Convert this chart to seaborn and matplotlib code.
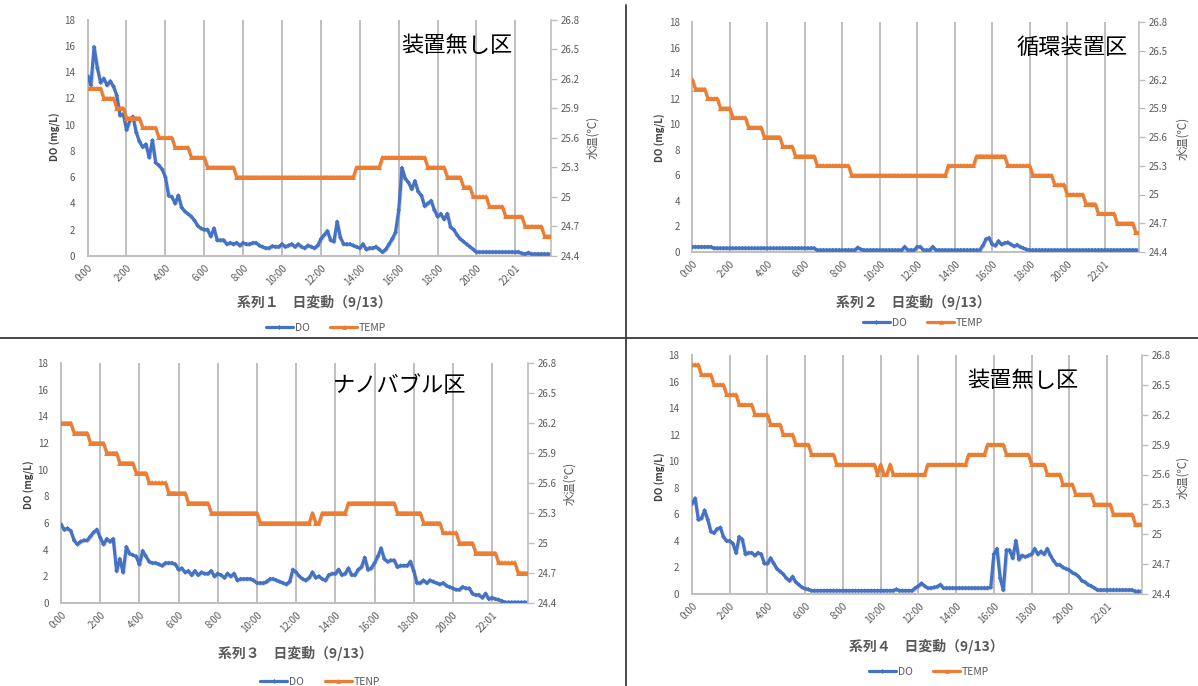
import numpy as np
import pandas as pd
import matplotlib
matplotlib.use("Agg")
import matplotlib.pyplot as plt
import matplotlib.patheffects as pe
from matplotlib.lines import Line2D
import seaborn as sns

# ---------------------------------------------------------------------------
# Data: 10-minute samples over one day (9/13), 144 samples per series
# ---------------------------------------------------------------------------
time_labels = ["0:00", "2:00", "4:00", "6:00", "8:00", "10:00",
               "12:00", "14:00", "16:00", "18:00", "20:00", "22:01"]

# Dissolved oxygen (mg/L)
do1 = [13.7, 13.0, 15.9, 14.3, 13.2, 13.5, 13.0, 13.3, 12.9, 12.2,
       10.7, 10.8, 9.6, 10.3, 10.6, 9.4, 8.7, 8.3, 8.5, 7.5,
       8.8, 7.1, 6.9, 6.6, 6.0, 4.6, 4.5, 4.0, 4.6, 3.7,
       3.4, 3.2, 3.0, 2.7, 2.3, 2.1, 2.0, 2.0, 1.5, 2.1,
       1.2, 1.2, 1.2, 0.9, 1.0, 0.9, 1.0, 0.8, 1.0, 0.9,
       0.9, 1.0, 1.0, 0.8, 0.7, 0.6, 0.6, 0.75, 0.7, 0.7,
       0.9, 0.7, 0.8, 0.9, 0.7, 0.9, 0.7, 0.6, 0.8, 0.7,
       0.6, 0.8, 1.3, 1.6, 1.9, 1.2, 1.1, 2.6, 1.4, 0.9,
       0.9, 0.9, 0.8, 0.7, 0.6, 0.9, 0.5, 0.6, 0.6, 0.7,
       0.5, 0.3, 0.5, 0.9, 1.3, 1.8, 3.5, 6.7, 5.9, 5.6,
       5.1, 5.7, 4.9, 4.6, 3.8, 4.0, 4.2, 3.5, 3.0, 3.2,
       2.8, 3.2, 2.2, 2.0, 1.6, 1.3, 1.1, 0.9, 0.7, 0.5,
       0.3, 0.3, 0.3, 0.3, 0.3, 0.3, 0.3, 0.3, 0.3, 0.3,
       0.3, 0.3, 0.3, 0.3, 0.2, 0.15, 0.25, 0.15, 0.15, 0.15,
       0.15, 0.15, 0.15, 0.15]

do2 = [0.4, 0.4, 0.4, 0.4, 0.4, 0.4, 0.4, 0.3, 0.3, 0.3,
       0.3, 0.3, 0.3, 0.3, 0.3, 0.3, 0.3, 0.3, 0.3, 0.3,
       0.3, 0.3, 0.3, 0.3, 0.3, 0.3, 0.3, 0.3, 0.3, 0.3,
       0.3, 0.3, 0.3, 0.3, 0.3, 0.3, 0.3, 0.3, 0.3, 0.3,
       0.15, 0.15, 0.15, 0.15, 0.15, 0.15, 0.15, 0.15, 0.15, 0.15,
       0.15, 0.15, 0.15, 0.35, 0.2, 0.15, 0.15, 0.15, 0.15, 0.15,
       0.15, 0.15, 0.15, 0.15, 0.15, 0.15, 0.15, 0.15, 0.4, 0.15,
       0.15, 0.15, 0.4, 0.4, 0.15, 0.15, 0.15, 0.4, 0.15, 0.15,
       0.15, 0.15, 0.15, 0.15, 0.15, 0.15, 0.15, 0.15, 0.15, 0.15,
       0.15, 0.15, 0.15, 0.5, 1.0, 1.1, 0.6, 0.5, 0.85, 0.6,
       0.7, 0.75, 0.6, 0.45, 0.55, 0.4, 0.3, 0.2, 0.15, 0.15,
       0.15, 0.15, 0.15, 0.15, 0.15, 0.15, 0.15, 0.15, 0.15, 0.15,
       0.15, 0.15, 0.15, 0.15, 0.15, 0.15, 0.15, 0.15, 0.15, 0.15,
       0.15, 0.15, 0.15, 0.15, 0.15, 0.15, 0.15, 0.15, 0.15, 0.15,
       0.15, 0.15, 0.15, 0.15]

do3 = [5.9, 5.5, 5.6, 5.4, 4.7, 4.4, 4.6, 4.7, 4.7, 5.0,
       5.3, 5.5, 4.9, 4.4, 4.8, 4.6, 4.8, 2.4, 3.3, 2.3,
       4.2, 3.7, 3.6, 3.5, 2.9, 3.9, 3.5, 3.1, 3.0, 3.0,
       2.9, 2.8, 3.0, 3.0, 3.0, 2.9, 2.5, 2.6, 2.3, 2.4,
       2.1, 2.4, 2.1, 2.3, 2.2, 2.2, 2.4, 2.0, 2.2, 2.1,
       1.9, 2.2, 2.0, 2.2, 1.7, 1.8, 1.8, 1.8, 1.8, 1.7,
       1.5, 1.5, 1.5, 1.6, 1.8, 1.8, 1.7, 1.6, 1.5, 1.4,
       1.6, 2.5, 2.3, 2.0, 1.8, 1.7, 1.9, 2.3, 1.9, 2.0,
       1.8, 1.7, 2.1, 2.2, 2.2, 2.5, 2.1, 2.2, 2.6, 2.1,
       2.1, 2.5, 2.7, 3.4, 2.5, 2.6, 3.0, 3.5, 4.1, 3.3,
       3.1, 3.2, 3.2, 2.7, 2.8, 2.8, 2.8, 3.1, 2.4, 1.5,
       1.5, 1.7, 1.5, 1.7, 1.6, 1.5, 1.4, 1.5, 1.3, 1.2,
       1.1, 1.0, 1.0, 1.2, 1.1, 1.1, 0.7, 0.6, 0.6, 0.4,
       0.7, 0.3, 0.4, 0.3, 0.25, 0.15, 0.05, 0.05, 0.05, 0.05,
       0.05, 0.05, 0.05, 0.05]

do4 = [6.8, 7.2, 5.6, 5.7, 6.3, 5.6, 4.7, 4.6, 4.9, 5.0,
       4.3, 4.0, 4.0, 3.8, 3.1, 4.3, 4.1, 3.0, 3.1, 3.1,
       2.9, 3.1, 3.0, 2.3, 2.3, 2.7, 2.3, 1.9, 1.7, 1.5,
       1.2, 1.0, 1.3, 0.9, 0.7, 0.5, 0.4, 0.35, 0.25, 0.25,
       0.25, 0.25, 0.25, 0.25, 0.25, 0.25, 0.25, 0.25, 0.25, 0.25,
       0.25, 0.25, 0.25, 0.25, 0.25, 0.25, 0.25, 0.25, 0.25, 0.25,
       0.25, 0.25, 0.25, 0.25, 0.25, 0.35, 0.25, 0.25, 0.25, 0.25,
       0.25, 0.45, 0.6, 0.8, 0.6, 0.45, 0.45, 0.5, 0.55, 0.7,
       0.45, 0.45, 0.45, 0.45, 0.45, 0.45, 0.45, 0.45, 0.45, 0.45,
       0.45, 0.45, 0.45, 0.45, 0.45, 0.5, 3.0, 3.4, 1.2, 0.3,
       3.3, 3.3, 2.7, 4.0, 2.6, 2.9, 2.8, 2.9, 3.0, 3.4,
       3.0, 3.2, 3.0, 3.4, 2.9, 2.5, 2.2, 2.2, 2.0, 1.9,
       1.8, 1.6, 1.5, 1.3, 1.0, 0.9, 0.7, 0.6, 0.45, 0.3,
       0.3, 0.3, 0.3, 0.3, 0.3, 0.3, 0.3, 0.3, 0.3, 0.3,
       0.3, 0.2, 0.2, 0.2]

# Water temperature (deg C), logged in 0.1 steps: (value, number of samples)
temp1_runs = [(26.1, 5), (26.0, 4), (25.9, 3), (25.8, 5), (25.7, 5), (25.6, 5),
              (25.5, 5), (25.4, 5), (25.3, 9), (25.2, 37), (25.3, 8), (25.4, 14),
              (25.3, 6), (25.2, 5), (25.1, 3), (25.0, 5), (24.9, 5), (24.8, 6),
              (24.7, 6), (24.6, 3)]
temp2_runs = [(26.2, 1), (26.1, 4), (26.0, 4), (25.9, 4), (25.8, 5), (25.7, 5),
              (25.6, 6), (25.5, 4), (25.4, 7), (25.3, 11), (25.2, 31), (25.3, 9),
              (25.4, 10), (25.3, 8), (25.2, 7), (25.1, 4), (25.0, 6), (24.9, 4),
              (24.8, 6), (24.7, 6), (24.6, 2)]
temp3_runs = [(26.2, 4), (26.1, 5), (26.0, 5), (25.9, 4), (25.8, 5), (25.7, 4),
              (25.6, 6), (25.5, 6), (25.4, 7), (25.3, 15), (25.2, 16), (25.3, 1),
              (25.2, 2), (25.3, 8), (25.4, 15), (25.3, 8), (25.2, 6), (25.1, 5),
              (25.0, 5), (24.9, 7), (24.8, 6), (24.7, 4)]
temp4_runs = [(26.7, 3), (26.6, 4), (26.5, 4), (26.4, 4), (26.3, 5), (26.2, 5),
              (26.1, 4), (26.0, 4), (25.9, 5), (25.8, 8), (25.7, 13), (25.6, 1),
              (25.7, 1), (25.6, 2), (25.7, 1), (25.6, 11), (25.7, 13), (25.8, 6),
              (25.9, 6), (25.8, 8), (25.7, 5), (25.6, 5), (25.5, 4), (25.4, 6),
              (25.3, 6), (25.2, 7), (25.1, 3)]

do_ticks = [0, 2, 4, 6, 8, 10, 12, 14, 16, 18]
temp_ticks = [24.4, 24.7, 25.0, 25.3, 25.6, 25.9, 26.2, 26.5, 26.8]

plot_names = ["装置無し区", "循環装置区", "ナノバブル区", "装置無し区"]
series_titles = ["系列１　日変動（9/13）", "系列２　日変動（9/13）",
                 "系列３　日変動（9/13）", "系列４　日変動（9/13）"]
legend_labels = [("DO", "TEMP"), ("DO", "TEMP"), ("DO", "TENP"), ("DO", "TEMP")]


def expand(runs):
    out = []
    for value, count in runs:
        out.extend([value] * count)
    return out


do_series = [do1, do2, do3, do4]
temp_series = [expand(temp1_runs), expand(temp2_runs),
               expand(temp3_runs), expand(temp4_runs)]

# ---------------------------------------------------------------------------
# Styling
# ---------------------------------------------------------------------------
sns.set_theme(style="white")
plt.rcParams["font.family"] = ["Noto Sans CJK JP", "DejaVu Sans"]
plt.rcParams["axes.unicode_minus"] = False

BLUE = "#4472C4"
ORANGE = "#ED7D31"
GRID = "#BFBFBF"
TXT = "#595959"

W, H = 1198, 686
fig = plt.figure(figsize=(W / 100, H / 100), dpi=100)
fig.patch.set_facecolor("white")


def fx(x):
    return x / W


def fy(y):
    return 1 - y / H


# Layout of each chart in pixels
layout = [
    dict(ax=(87.6, 19.5, 551, 256), name=(401, 46), xlab=(314, 302), leg=(326, 328),
         yl=(55, 137), yr=(593, 137)),
    dict(ax=(692.3, 22, 1139, 252), name=(1017, 47), xlab=(913, 302), leg=(923, 323),
         yl=(660, 138), yr=(1183, 138)),
    dict(ax=(61, 363, 528, 603), name=(333, 386), xlab=(295, 653), leg=(320, 682),
         yl=(29, 485), yr=(570, 483)),
    dict(ax=(692, 355, 1141.6, 594), name=(967, 380), xlab=(926, 646), leg=(929, 672),
         yl=(660, 477), yr=(1183, 477)),
]

shadow = [pe.SimpleLineShadow(offset=(0.6, -0.6), shadow_color="#808080", alpha=0.35),
          pe.Normal()]

for k in range(4):
    L = layout[k]
    l, t, r, b = L["ax"]
    ax = fig.add_axes([fx(l), fy(b), (r - l) / W, (b - t) / H])
    df = pd.DataFrame({"idx": np.arange(len(do_series[k])),
                       "DO": do_series[k], "TEMP": temp_series[k]})

    sns.lineplot(data=df, x="idx", y="DO", ax=ax, color=BLUE, lw=2.3,
                 marker="D", markersize=2.4, markeredgewidth=0, zorder=3)
    ax2 = ax.twinx()
    sns.lineplot(data=df, x="idx", y="TEMP", ax=ax2, color=ORANGE, lw=2.3,
                 marker="^", markersize=3.6, markeredgewidth=0, zorder=3)
    for ln in ax.get_lines() + ax2.get_lines():
        ln.set_path_effects(shadow)

    # left axis (DO)
    ax.set_xlim(0, len(df) - 1)
    ax.set_ylim(0, 18)
    ax.set_yticks(do_ticks)
    ax.set_xticks(np.arange(0, len(df), 12))
    ax.set_xticklabels(time_labels, rotation=45, ha="right", va="top",
                       rotation_mode="anchor")
    ax.tick_params(axis="x", length=0, pad=5, labelsize=7, labelcolor=TXT)
    ax.tick_params(axis="y", length=0, pad=9, labelsize=7, labelcolor=TXT)
    ax.grid(axis="x", color=GRID, lw=1.4)
    ax.grid(axis="y", visible=False)
    ax.set_xlabel("")
    ax.set_ylabel("")
    for s in ("top", "right"):
        ax.spines[s].set_visible(False)
    for s in ("left", "bottom"):
        ax.spines[s].set_color(GRID)
        ax.spines[s].set_linewidth(1.4)

    # right axis (temperature)
    ax2.set_ylim(24.4, 26.8)
    ax2.set_yticks(temp_ticks)
    ax2.set_yticklabels([f"{v:g}" for v in temp_ticks])
    ax2.tick_params(axis="y", length=4, width=1, color=GRID, pad=3,
                    labelsize=7, labelcolor=TXT, direction="out")
    ax2.grid(False)
    ax2.set_ylabel("")
    for s in ("top", "left", "bottom"):
        ax2.spines[s].set_visible(False)
    ax2.spines["right"].set_color(GRID)
    ax2.spines["right"].set_linewidth(1.2)

    # texts
    fig.text(fx(L["yl"][0]), fy(L["yl"][1]), "DO (mg/L)", rotation=90,
             ha="center", va="center", fontsize=7, fontweight="bold", color="#404040")
    fig.text(fx(L["yr"][0]), fy(L["yr"][1]), "水温(℃)", rotation=90,
             ha="center", va="center", fontsize=8.5, color=TXT)
    fig.text(fx(L["xlab"][0]), fy(L["xlab"][1]), series_titles[k],
             ha="center", va="center", fontsize=10, fontweight="bold", color=TXT)
    fig.text(fx(L["name"][0]), fy(L["name"][1]), plot_names[k],
             ha="left", va="center", fontsize=16, color="black")

    handles = [Line2D([], [], color=BLUE, lw=2.3, marker="D", markersize=2.5,
                      markeredgewidth=0),
               Line2D([], [], color=ORANGE, lw=2.3, marker="^", markersize=3.4,
                      markeredgewidth=0)]
    fig.legend(handles, list(legend_labels[k]), loc="center",
               bbox_to_anchor=(fx(L["leg"][0]), fy(L["leg"][1])), ncol=2,
               frameon=False, fontsize=7.5, labelcolor=TXT, handlelength=2.6,
               handletextpad=0.15, columnspacing=2.0, borderpad=0, borderaxespad=0)

# panel separators
fig.add_artist(Line2D([0, 1], [fy(338), fy(338)], transform=fig.transFigure,
                      color="#3a3a3a", lw=1.3))
fig.add_artist(Line2D([fx(626), fx(626)], [fy(5), 0], transform=fig.transFigure,
                      color="#3a3a3a", lw=1.3))

fig.savefig("out.png", dpi=100, facecolor="white")
